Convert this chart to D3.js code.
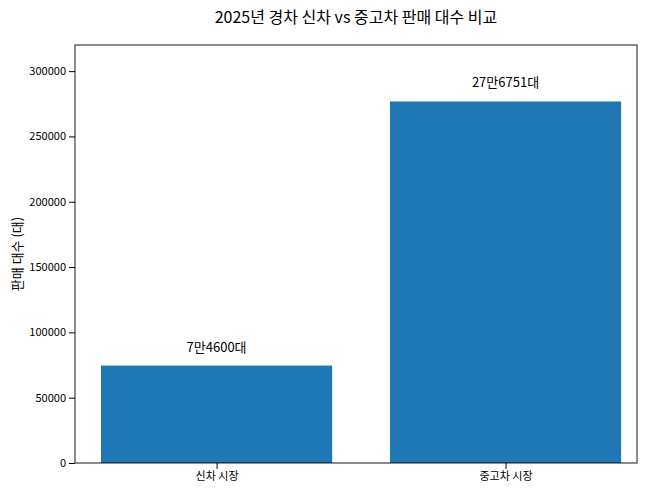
<!DOCTYPE html>
<html><head><meta charset="utf-8">
<script src="https://cdn.jsdelivr.net/npm/d3@7"></script>
<style>body{margin:0;background:#fff}text{font-family:"Noto Sans CJK KR","Noto Sans",sans-serif}</style>
</head><body><svg id="c" width="658" height="491"></svg>
<script>
const categories = ["신차 시장", "중고차 시장"];
const values = [74600, 276751];
const valueLabels = ["7만4600대", "27만6751대"];
const yTicks = [0, 50000, 100000, 150000, 200000, 250000, 300000];

const svg = d3.select("#c");
const L = 75, R = 637, T = 45, B = 463;
const x = d3.scaleLinear().domain([-0.49, 1.455]).range([L, R]);
const y = d3.scaleLinear().domain([0, 320000]).range([B, T]);
const w = 0.8;

svg.append("text").attr("x", 356).attr("y", 23).attr("text-anchor", "middle")
  .attr("font-size", 16).text("2025년 경차 신차 vs 중고차 판매 대수 비교");

svg.selectAll("rect.bar").data(values).enter().append("rect")
  .attr("x", (d, i) => x(i - w / 2)).attr("width", x(w) - x(0))
  .attr("y", d => y(d)).attr("height", d => B - y(d)).attr("fill", "#1f77b4");

svg.selectAll("text.v").data(values).enter().append("text")
  .attr("x", (d, i) => x(i)).attr("y", d => y(d) - 14).attr("text-anchor", "middle")
  .attr("font-size", 13).text((d, i) => valueLabels[i]);

const ya = svg.append("g").attr("transform", `translate(${L},0)`)
  .call(d3.axisLeft(y).tickValues(yTicks).tickFormat(d3.format("d")).tickSizeOuter(0));
const xa = svg.append("g").attr("transform", `translate(0,${B})`)
  .call(d3.axisBottom(x).tickValues([0, 1]).tickFormat(i => categories[i]).tickSizeOuter(0));
[ya, xa].forEach(a => { a.selectAll("text").attr("font-size", 11).attr("fill", "#000");
  a.selectAll("line").attr("stroke", "#000"); a.select(".domain").remove(); });

svg.append("rect").attr("x", L).attr("y", T).attr("width", R - L).attr("height", B - T)
  .attr("fill", "none").attr("stroke", "#000").attr("stroke-width", 0.9);

svg.append("text").attr("transform", "translate(22,254) rotate(-90)").attr("text-anchor", "middle")
  .attr("font-size", 13).text("판매 대수 (대)");
</script></body></html>
